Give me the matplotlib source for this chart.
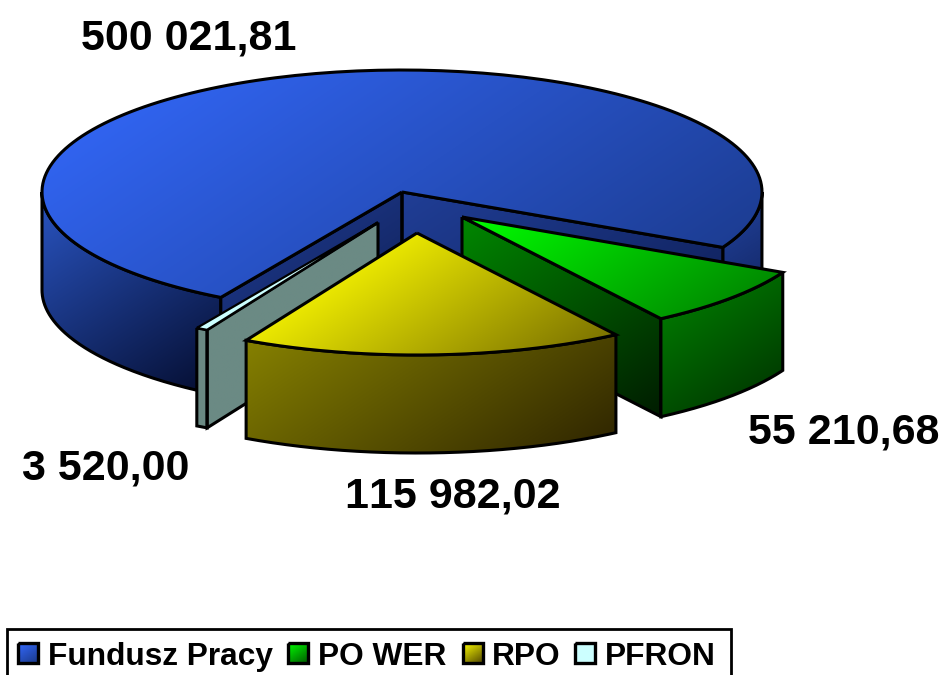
import numpy as np
import matplotlib
matplotlib.use('Agg')
import matplotlib.pyplot as plt
from matplotlib.path import Path
from matplotlib.patches import PathPatch, Rectangle

plt.rcParams['font.family'] = ['Liberation Sans', 'DejaVu Sans']
plt.rcParams['text.kerning_factor'] = 6

names = ['Fundusz Pracy', 'PO WER', 'RPO', 'PFRON']
values = [500021.81, 55210.68, 115982.02, 3520.00]
value_labels = ['500 021,81', '55 210,68', '115 982,02', '3 520,00']

# pie geometry in pixels
cx, cy = 402, 192
rx, ry = 360, 122
depth = 98
gap_start = -27.0
offsets = [(0, 0), (60, 25), (15, 41), (-24, 30.5)]

fig = plt.figure(figsize=(9.42, 6.75), dpi=100)
ax = fig.add_axes([0, 0, 1, 1])
ax.set_xlim(0, 942)
ax.set_ylim(675, 0)
ax.axis('off')

LW = 2.2


def rim(a0, a1, off, dy=0):
    t = np.radians(np.linspace(a0, a1, 160))
    x = cx + off[0] + rx * np.cos(t)
    y = cy + off[1] + dy - ry * np.sin(t)
    return np.column_stack([x, y])


def face(points, c0, c1, z=1, lw=LW):
    # polygon with a diagonal gradient, light at top left, dark at bottom right
    points = np.asarray(points, dtype=float)
    x0, y0 = points.min(axis=0)
    x1, y1 = points.max(axis=0)
    w, h = x1 - x0, y1 - y0
    xx, yy = np.meshgrid(np.linspace(0, 1, 240), np.linspace(0, 1, 240))
    t = ((xx * w + 1.5 * yy * h) / (w + 1.5 * h))[..., None]
    img = np.clip((np.array(c0) * (1 - t) + np.array(c1) * t) / 255, 0, 1)
    im = ax.imshow(img, extent=(x0, x1, y1, y0), origin='upper', aspect='auto', zorder=z)
    closed = np.vstack([points, points[:1]])
    patch = PathPatch(Path(closed), facecolor='none', edgecolor='black', lw=lw,
                      joinstyle='miter', zorder=z + 0.1)
    ax.add_patch(patch)
    im.set_clip_path(patch)


spans = [360 * v / sum(values) for v in values]
a_pow = (gap_start, gap_start - spans[1])
a_rpo = (a_pow[1], a_pow[1] - spans[2])
a_pf = (a_rpo[1], a_rpo[1] - spans[3])
a_main = (a_pf[1], a_pf[1] - spans[0])
centre = np.array([cx, cy], dtype=float)
down = np.array([0, depth])


def edge(angle, off):
    return rim(angle, angle, off)[0]


# Fundusz Pracy
face(np.vstack([rim(-180, a_main[0], offsets[0]), rim(a_main[0], -180, offsets[0], depth)]),
     (42, 85, 195), (4, 12, 45), 1)
face(np.vstack([rim(gap_start, 0, offsets[0]), rim(0, gap_start, offsets[0], depth)]),
     (34, 68, 160), (14, 28, 80), 1)
q = edge(a_main[0], offsets[0])
face([centre, q, q + down, centre + down], (32, 62, 150), (12, 24, 70), 2)
q = edge(gap_start, offsets[0])
face([centre, q, q + down, centre + down], (32, 62, 150), (14, 30, 85), 2)
face(np.vstack([centre[None, :], rim(a_main[0], a_main[1], offsets[0])]),
     (52, 106, 255), (26, 56, 135), 3)

# PFRON
apex = centre + offsets[3]
q_a = edge(a_pf[0], offsets[3])
q_b = edge(a_pf[1], offsets[3])
grey = (107, 138, 132)
face([apex, q_a, q_a + down, apex + down], grey, grey, 4)
face([q_b, q_a, q_a + down, q_b + down], grey, grey, 4)
face(np.vstack([apex[None, :], rim(a_pf[0], a_pf[1], offsets[3])]),
     (204, 255, 255), (204, 255, 255), 4.5, lw=1.6)

# PO WER
apex = centre + offsets[1]
q_b = edge(a_pow[1], offsets[1])
face([apex, q_b, q_b + down, apex + down], (0, 135, 0), (0, 28, 0), 5)
face(np.vstack([rim(a_pow[0], a_pow[1], offsets[1]),
                rim(a_pow[1], a_pow[0], offsets[1], depth)]),
     (0, 135, 0), (0, 45, 0), 5.2)
face(np.vstack([apex[None, :], rim(a_pow[0], a_pow[1], offsets[1])]),
     (0, 255, 0), (0, 120, 0), 5.4)

# RPO
apex = centre + offsets[2]
face(np.vstack([rim(a_rpo[0], a_rpo[1], offsets[2]),
                rim(a_rpo[1], a_rpo[0], offsets[2], depth)]),
     (135, 130, 0), (45, 35, 0), 6)
face(np.vstack([apex[None, :], rim(a_rpo[0], a_rpo[1], offsets[2])]),
     (285, 285, 0), (115, 105, 0), 6.2)

# value labels
label_pos = [(81, 49), (748, 443), (345, 507), (22, 480)]
for txt, (lx, ly) in zip(value_labels, label_pos):
    ax.text(lx, ly, txt, fontsize=31.0, fontweight='bold', color='black',
            ha='left', va='baseline', zorder=10)

# legend
ax.add_patch(Rectangle((7, 629), 724, 60, facecolor='white', edgecolor='black',
                       lw=2.0, zorder=10))
swatch_x = [18, 288, 463, 575]
text_x = [48, 318, 492, 605]
swatch_colors = [((52, 106, 255), (26, 56, 135)), ((0, 255, 0), (0, 90, 0)),
                 ((255, 255, 0), (80, 70, 0)), ((204, 255, 255), (204, 255, 255))]
for name, sx, tx, (c0, c1) in zip(names, swatch_x, text_x, swatch_colors):
    s = [[sx, 643], [sx + 20, 643], [sx + 20, 663], [sx, 663]]
    face(s, c0, c1, 11, lw=2.4)
    ax.text(tx, 665, name, fontsize=22.8, fontweight='bold', color='black',
            ha='left', va='baseline', zorder=12)

ax.set_xlim(0, 942)
ax.set_ylim(675, 0)
fig.savefig('out.png', dpi=100, facecolor='white')
